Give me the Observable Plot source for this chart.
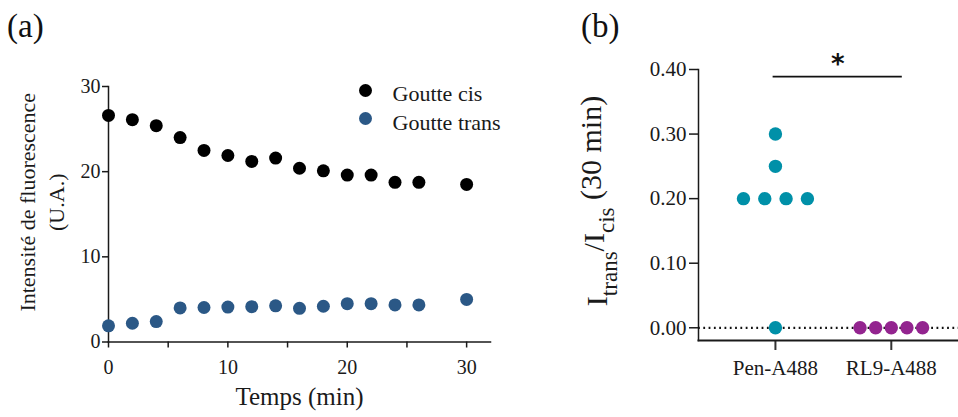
<!DOCTYPE html>
<html>
<head>
<meta charset="utf-8">
<script src="https://cdn.jsdelivr.net/npm/d3@7"></script>
<script src="https://cdn.jsdelivr.net/npm/@observablehq/plot@0.6"></script>
<style>
  html, body { margin: 0; padding: 0; background: #fff; }
  #wrap { position: relative; width: 958px; height: 417px; overflow: hidden; font-family: "Liberation Serif", "DejaVu Serif", serif; }
  #wrap svg { font-family: "Liberation Serif", "DejaVu Serif", serif; }
  .panel { position: absolute; top: 0; }
  .tag { position: absolute; top: 10px; font-size: 33px; line-height: 1; color: #111; font-family: "Liberation Serif", serif; }
</style>
</head>
<body>
<div id="wrap">
  <div class="tag" style="left:7px">(a)</div>
  <div class="tag" style="left:581px">(b)</div>
  <div id="pa" class="panel" style="left:0px"></div>
  <div id="pb" class="panel" style="left:570px"></div>
</div>
<script>
// ---------- Panel (a) data ----------
const times = [0, 2, 4, 6, 8, 10, 12, 14, 16, 18, 20, 22, 24, 26, 30];
const cisValues = [26.6, 26.1, 25.4, 24.0, 22.5, 21.9, 21.2, 21.6, 20.4, 20.1, 19.6, 19.6, 18.75, 18.75, 18.5];
const transValues = [1.9, 2.2, 2.4, 4.0, 4.05, 4.1, 4.15, 4.25, 3.95, 4.2, 4.5, 4.5, 4.35, 4.35, 5.0];
const seriesNames = ["Goutte cis", "Goutte trans"];
const seriesColors = ["#000000", "#2b5886"];
const xTicksA = [0, 5, 10, 15, 20, 25, 30];
const xLabelsA = [0, 10, 20, 30];
const yTicksA = [0, 10, 20, 30];
const xTitleA = "Temps (min)";
const yTitleA = "Intensité de fluorescence\n(U.A.)";

// ---------- Panel (b) data ----------
const groups = ["Pen-A488", "RL9-A488"];
const penValues = [0.20, 0.20, 0.20, 0.20, 0.25, 0.30, 0.00];
const rl9Values = [0.00, 0.00, 0.00, 0.00, 0.00];
const groupColors = ["#0090a8", "#93248f"];
const yTicksB = [0.00, 0.10, 0.20, 0.30, 0.40];
const sigBar = { x1: -0.02, x2: 1.095, y: 0.389, label: "*" };

const serif = "Liberation Serif, DejaVu Serif, serif";

// ----- Panel (a) -----
const dataA = times.flatMap((t, i) => [
  { t, v: cisValues[i], s: seriesNames[0] },
  { t, v: transValues[i], s: seriesNames[1] }
]);

const plotA = Plot.plot({
  width: 500, height: 417,
  marginLeft: 108, marginRight: 10, marginTop: 86, marginBottom: 75.5,
  style: { fontFamily: serif, fontSize: "20px", color: "#1a1a1a", background: "transparent", overflow: "visible" },
  x: { domain: [0, 32] },
  y: { domain: [0, 30] },
  color: { domain: seriesNames, range: seriesColors },
  marks: [
    Plot.axisY({ ticks: yTicksA, tickSize: 6, tickPadding: 2, label: null, fontSize: 20, fontFamily: serif, strokeWidth: 1.5 }),
    Plot.axisX({ ticks: xTicksA, tickSize: 6, tickPadding: 12, label: null, fontSize: 20, fontFamily: serif, strokeWidth: 1.5,
      tickFormat: d => xLabelsA.includes(d) ? String(d) : "" }),
    Plot.frame({ anchor: "left", stroke: "#1a1a1a", strokeWidth: 1.5 }),
    Plot.frame({ anchor: "bottom", stroke: "#1a1a1a", strokeWidth: 1.5 }),
    Plot.dot(dataA, { x: "t", y: "v", fill: "s", r: 6.5 }),
    Plot.text([xTitleA], { frameAnchor: "bottom", dy: 63, text: d => d, fontSize: 25, fontFamily: serif, fill: "#1a1a1a" }),
    Plot.text([yTitleA], { frameAnchor: "left", dx: -68, dy: -12, rotate: -90, text: d => d, textAnchor: "middle", lineAnchor: "middle", fontSize: 22, fontFamily: serif, lineHeight: 1.3, fill: "#1a1a1a" }),
    ...seriesNames.map((name, i) => Plot.dot([name], { frameAnchor: "top-left", dx: 257, dy: 4 + i * 28, fill: d => d, r: 6.5 })),
    ...seriesNames.map((name, i) => Plot.text([name], { frameAnchor: "top-left", dx: 284, dy: 7 + i * 29, text: d => d, textAnchor: "start", lineAnchor: "middle", fontSize: 22, fontFamily: serif, fill: "#1a1a1a" }))
  ]
});
document.getElementById("pa").appendChild(plotA);

// ----- Panel (b) -----
// spread points sharing the same value horizontally (scatter-dot layout)
function spread(values, gi, step) {
  const counts = d3.rollup(values, v => v.length, d => d);
  const seen = new Map();
  return values.map(v => {
    const n = counts.get(v);
    const k = seen.get(v) || 0;
    seen.set(v, k + 1);
    return { g: groups[gi], x: gi + (k - (n - 1) / 2) * step, v };
  });
}
const dataB = [...spread(penValues, 0, 0.184), ...spread(rl9Values, 1, 0.135)];

const plotB = Plot.plot({
  width: 388, height: 417,
  marginLeft: 128, marginRight: 0, marginTop: 69, marginBottom: 77,
  style: { fontFamily: serif, fontSize: "21px", color: "#1a1a1a", background: "transparent", overflow: "visible" },
  x: { type: "linear", domain: [-0.664, 1.58] },
  y: { domain: [-0.0197, 0.40] },
  color: { domain: groups, range: groupColors },
  marks: [
    Plot.axisY({ ticks: yTicksB, tickSize: 9, tickPadding: 3, label: null, fontSize: 21, fontFamily: serif, strokeWidth: 1.5, tickFormat: d3.format(".2f") }),
    Plot.axisX({ ticks: [0, 1], tickSize: 10, tickPadding: 10, label: null, fontSize: 21, fontFamily: serif, strokeWidth: 2, stroke: "#333",
      tickFormat: i => groups[i] }),
    Plot.frame({ anchor: "left", stroke: "#1a1a1a", strokeWidth: 1.5 }),
    Plot.frame({ anchor: "bottom", stroke: "#1a1a1a", strokeWidth: 2 }),
    Plot.ruleY([0], { stroke: "#111", strokeWidth: 2.2, strokeDasharray: "1.8 3.5" }),
    Plot.dot(dataB, { x: "x", y: "v", fill: "g", r: 6.7 }),
    Plot.ruleY([sigBar], { y: "y", x1: "x1", x2: "x2", stroke: "#111", strokeWidth: 1.8 }),
    Plot.text([sigBar], { x: d => (d.x1 + d.x2) / 2, y: "y", text: "label", dy: -12, fontSize: 26, fontWeight: "bold", fontFamily: "DejaVu Sans, sans-serif", fill: "#111" })
  ]
});
document.getElementById("pb").appendChild(plotB);

// rotated y title with subscripts for panel (b)
const yt = d3.select(plotB).append("text")
  .attr("transform", "translate(37,201) rotate(-90)")
  .attr("text-anchor", "middle")
  .attr("font-family", serif)
  .attr("font-size", 30)
  .attr("fill", "#1a1a1a");
yt.append("tspan").text("I");
yt.append("tspan").attr("dy", "0.42em").attr("font-size", 23).text("trans");
yt.append("tspan").attr("dy", "-0.42em").text("/I");
yt.append("tspan").attr("dy", "0.42em").attr("font-size", 23).text("cis");
yt.append("tspan").attr("dy", "-0.42em").text("\u00a0(30 min)");
</script>
</body>
</html>
